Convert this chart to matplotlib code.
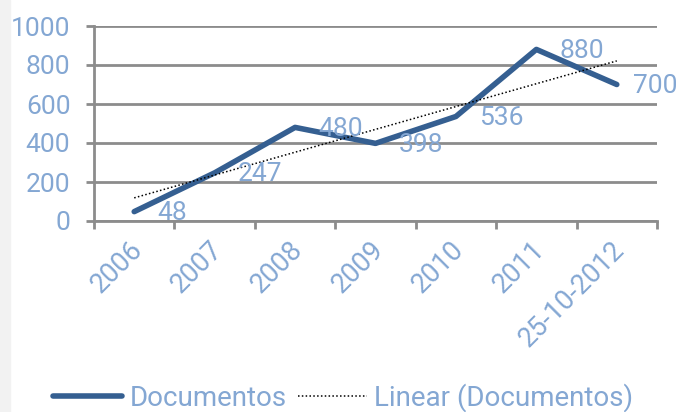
import matplotlib
matplotlib.use("Agg")
import matplotlib.pyplot as plt
import numpy as np
from matplotlib.lines import Line2D

categories = ["2006", "2007", "2008", "2009", "2010", "2011", "25-10-2012"]
documentos = [48, 247, 480, 398, 536, 880, 700]
yticks = [0, 200, 400, 600, 800, 1000]

plt.rcParams['font.family'] = ['Roboto', 'DejaVu Sans']
label_color = "#84a7d3"
line_color = "#355f91"
grid_color = "#8c8c8c"
fs = 19

fig = plt.figure(figsize=(6.8, 4.12), dpi=100)
fig.patches.append(plt.Rectangle((0, 0), 10/680, 1, transform=fig.transFigure,
                                 color="#f2f2f2", zorder=0))
ax = fig.add_axes([94/680, 1-221/412, (657-94)/680, (221-26)/412])

x = np.arange(len(categories))
ax.plot(x, documentos, color=line_color, lw=4, solid_capstyle='round',
        solid_joinstyle='round', zorder=3)
coef = np.polyfit(x, documentos, 1)
ax.plot(x, np.polyval(coef, x), color="black", lw=1.1, ls=(0, (1, 1.5)), zorder=4)

n = len(documentos)
for i, (xi, v) in enumerate(zip(x, documentos)):
    dx = 12 if i == n - 1 else 16.5   # last label kept inside the chart area
    ax.annotate(str(v), (xi, v), xytext=(dx, -1), textcoords="offset points",
                ha="left", va="center", fontsize=fs, color=label_color, zorder=5)

ax.set_xlim(-0.5, n - 0.5)
ax.set_ylim(0, 1000)
ax.set_yticks(yticks)
ax.set_yticklabels([str(t) for t in yticks], fontsize=fs, color=label_color)
ax.set_xticks(x)
ax.set_xticklabels([])
ax.tick_params(axis='x', length=0)
for xi, c in zip(x, categories):
    ax.annotate(c, (xi, 0), xycoords=ax.get_xaxis_transform(),
                xytext=(-4, -11), textcoords="offset points",
                rotation=45, ha="right", va="top", rotation_mode="anchor",
                fontsize=19.5, color=label_color, annotation_clip=False)
ax.set_xticks(np.arange(-0.5, n + 0.5, 1), minor=True)
ax.tick_params(axis='x', which='minor', length=6, width=2, color=grid_color)
ax.tick_params(axis='y', length=6, width=2, color=grid_color, pad=11)
ax.grid(axis='y', color=grid_color, lw=2)
ax.set_axisbelow(True)
for s in ["top", "right"]:
    ax.spines[s].set_visible(False)
for s in ["left", "bottom"]:
    ax.spines[s].set_color(grid_color)
    ax.spines[s].set_linewidth(2)

handles = [Line2D([], [], color=line_color, lw=4, solid_capstyle='round'),
           Line2D([], [], color="black", lw=1.1, ls=(0, (1, 1.5)))]
leg = fig.legend(handles, ["Documentos", "Linear (Documentos)"], loc="center",
                 bbox_to_anchor=(343/680, 1-398/412), ncol=2, frameon=False,
                 fontsize=20, labelcolor=label_color, handlelength=2.5,
                 columnspacing=0.4, handletextpad=0.25)

fig.savefig("out.png", dpi=100)
